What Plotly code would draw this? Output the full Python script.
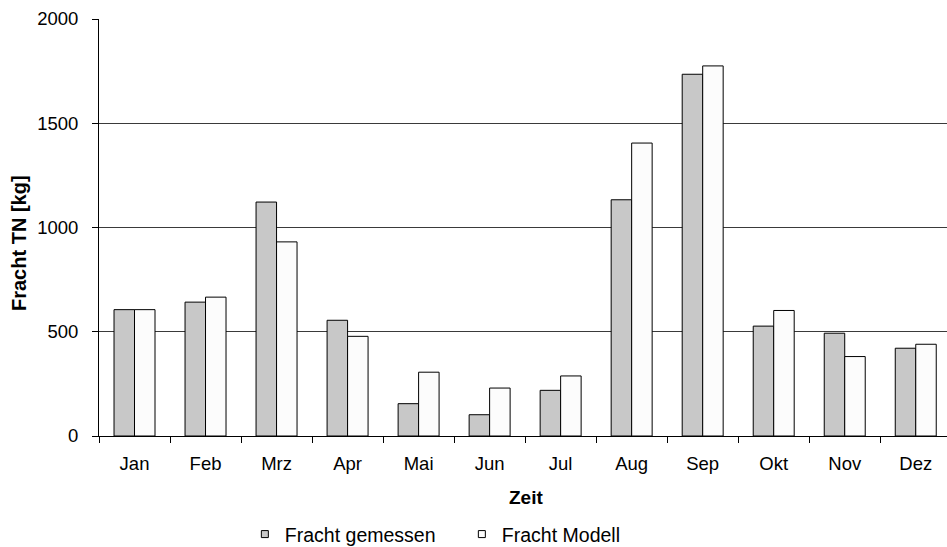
import plotly.graph_objects as go

# Monthly total-nitrogen loads, measured vs. model
months = ["Jan", "Feb", "Mrz", "Apr", "Mai", "Jun", "Jul", "Aug", "Sep", "Okt", "Nov", "Dez"]
fracht_gemessen = [606, 642, 1122, 555, 155, 102, 219, 1133, 1735, 527, 493, 421]
fracht_modell = [606, 666, 931, 478, 306, 230, 288, 1405, 1775, 602, 381, 440]

FONT = "Liberation Sans, Arial, sans-serif"
W, H = 947, 547
ML, MT, MB = 99, 19, 111

fig = go.Figure()
fig.add_trace(go.Bar(x=months, y=fracht_gemessen, name="Fracht gemessen",
                     marker=dict(color="#C8C8C8", line=dict(color="#000000", width=1)),
                     showlegend=False))
fig.add_trace(go.Bar(x=months, y=fracht_modell, name="Fracht Modell",
                     marker=dict(color="#FCFCFC", line=dict(color="#000000", width=1)),
                     showlegend=False))

# small square legend keys
for name, col in [("Fracht gemessen", "#C8C8C8"), ("Fracht Modell", "#FCFCFC")]:
    fig.add_trace(go.Scatter(x=[None], y=[None], mode="markers", name=name,
                             marker=dict(symbol="square", size=7, color=col,
                                         line=dict(color="#000000", width=1))))

fig.update_layout(
    width=W, height=H,
    margin=dict(l=ML, r=0, t=MT, b=MB, autoexpand=False),
    paper_bgcolor="white", plot_bgcolor="white",
    barmode="group", bargap=0.423, bargroupgap=0,
    font=dict(family=FONT, size=18, color="#000000"),
    showlegend=True,
    legend=dict(orientation="h", x=0.172, xanchor="left", y=-0.236, yanchor="middle",
                font=dict(family=FONT, size=19.5, color="#000000"),
                entrywidth=172, entrywidthmode="pixels",
                bgcolor="rgba(0,0,0,0)", itemclick=False),
)

fig.update_xaxes(
    type="category", range=[-0.5, 11.44],
    showline=True, linecolor="#000000", linewidth=1,
    ticks="outside", tickson="boundaries", ticklen=6, tickcolor="#000000",
    tickfont=dict(family=FONT, size=18.5, color="#000000"),
    ticklabelstandoff=11,
    showgrid=False, zeroline=False,
)
fig.update_yaxes(
    range=[0, 2000], tickvals=[0, 500, 1000, 1500, 2000],
    showline=True, linecolor="#000000", linewidth=1,
    ticks="outside", ticklen=6, tickcolor="#000000",
    tickfont=dict(family=FONT, size=18.5, color="#000000"),
    ticklabelstandoff=10,
    showgrid=True, gridcolor="#3a3a3a", gridwidth=1, zeroline=False,
)

plot_w = W - ML
plot_h = H - MT - MB
fig.add_annotation(text="<b>Fracht TN [kg]</b>", textangle=-90, showarrow=False,
                   xref="paper", yref="paper",
                   x=(19 - ML) / plot_w, y=(H - MB - 243) / plot_h,
                   xanchor="center", yanchor="middle",
                   font=dict(family=FONT, size=20, color="#000000"))
fig.add_annotation(text="<b>Zeit</b>", showarrow=False,
                   xref="paper", yref="paper",
                   x=(526 - ML) / plot_w, y=-(497 - (H - MB)) / plot_h,
                   xanchor="center", yanchor="middle",
                   font=dict(family=FONT, size=19, color="#000000"))

fig.write_html("out.html")
